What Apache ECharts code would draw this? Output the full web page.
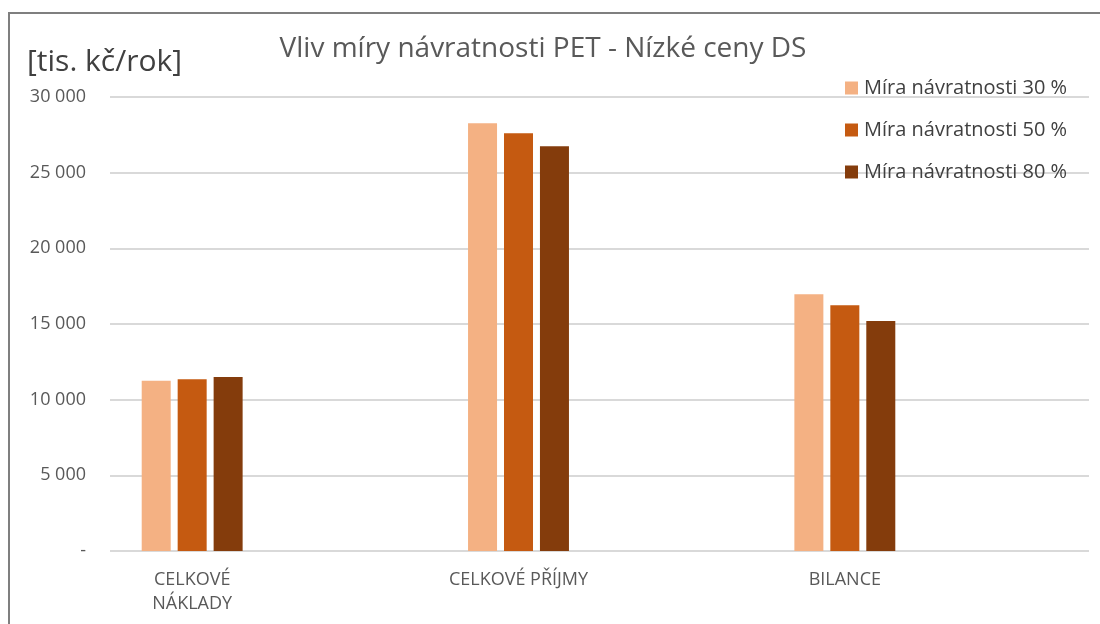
<!DOCTYPE html>
<html>
<head>
<meta charset="utf-8">
<script src="https://cdn.jsdelivr.net/npm/echarts@6/dist/echarts.min.js"></script>
<style>
  html, body { margin: 0; padding: 0; background: #fff; }
  #chart { width: 1100px; height: 624px; }
</style>
</head>
<body>
<div id="chart"></div>
<script>
var categories = ['CELKOVÉ\nNÁKLADY', 'CELKOVÉ PŘÍJMY', 'BILANCE'];
var seriesNames = ['Míra návratnosti 30 %', 'Míra návratnosti 50 %', 'Míra návratnosti 80 %'];
var values30 = [11250, 28270, 16960];
var values50 = [11350, 27600, 16240];
var values80 = [11500, 26750, 15200];
var colors = ['#F4B183', '#C55A11', '#843C0C'];

var font = '"Open Sans", "Noto Sans", sans-serif';

function fmt(v) {
    if (v === 0) return '-';
    return String(v).replace(/\B(?=(\d{3})+(?!\d))/g, ' ');
}

var option = {
    animation: false,
    textStyle: { fontFamily: font },
    title: {
        text: 'Vliv míry návratnosti PET - Nízké ceny DS',
        left: 538,
        textAlign: 'center',
        top: 30,
        textStyle: { fontSize: 28, fontWeight: 'normal', color: '#595959', fontFamily: font }
    },
    legend: {
        orient: 'vertical',
        left: 845,
        top: 78,
        padding: 0,
        itemWidth: 13,
        itemHeight: 13,
        itemGap: 22,
        icon: 'rect',
        data: seriesNames,
        textStyle: { fontSize: 20, color: '#404040', fontFamily: font, padding: [0, 0, 0, 1] }
    },
    graphic: [
        {
            type: 'polyline',
            shape: { points: [[9, 624], [9, 13], [1100, 13]] },
            style: { stroke: '#7f7f7f', lineWidth: 2, fill: null }
        },
        {
            type: 'text',
            left: 27,
            top: 47,
            style: { text: '[tis. kč/rok]', fontSize: 30, fill: '#404040', fontFamily: font }
        }
    ],
    grid: [
        { left: 29, right: 92, top: 97, bottom: 73 },
        { left: 110, right: 11, top: 97, bottom: 73 }
    ],
    xAxis: [
        {
            type: 'category',
            gridIndex: 0,
            data: categories,
            axisLine: { show: false },
            axisTick: { show: false },
            axisLabel: { fontSize: 18, color: '#595959', margin: 17, lineHeight: 24, fontFamily: font }
        },
        {
            type: 'value',
            gridIndex: 1,
            show: false
        }
    ],
    yAxis: [
        {
            type: 'value',
            gridIndex: 0,
            min: 0,
            max: 30000,
            interval: 5000,
            show: false
        },
        {
            type: 'value',
            gridIndex: 1,
            min: 0,
            max: 30000,
            interval: 5000,
            axisLine: { show: false },
            axisTick: { show: false },
            splitLine: { lineStyle: { color: '#d9d9d9', width: 2 } },
            axisLabel: { fontSize: 18, color: '#595959', margin: 24, formatter: fmt, fontFamily: font }
        }
    ],
    series: [
        { name: seriesNames[0], type: 'bar', data: values30, barWidth: 29, barGap: '24%', itemStyle: { color: colors[0] } },
        { name: seriesNames[1], type: 'bar', data: values50, barWidth: 29, barGap: '24%', itemStyle: { color: colors[1] } },
        { name: seriesNames[2], type: 'bar', data: values80, barWidth: 29, barGap: '24%', itemStyle: { color: colors[2] } }
    ]
};

var myChart = echarts.init(document.getElementById('chart'));
myChart.setOption(option, true);
</script>
</body>
</html>
